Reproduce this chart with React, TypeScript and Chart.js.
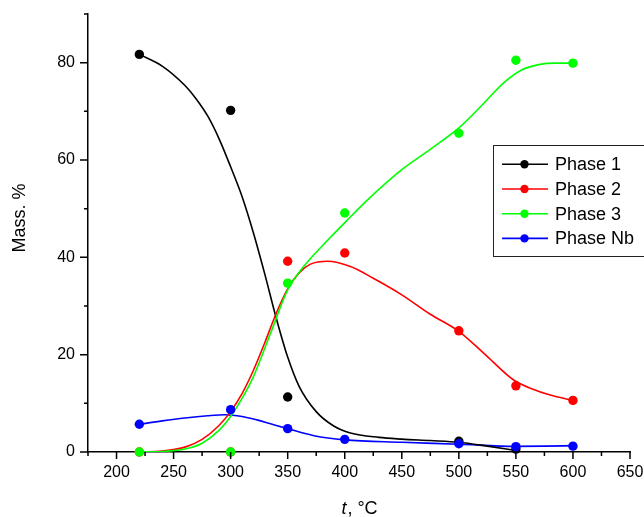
import { useEffect, useRef } from "react";
import { Chart, registerables } from "chart.js";

Chart.register(...registerables);

// ---- data ----
const seriesNames = ["Phase 1", "Phase 2", "Phase 3", "Phase Nb"];
const seriesColors = ["#000000", "#ff0000", "#00ff00", "#0000ff"];

const temps = [220, 300, 350, 400, 500, 550, 600];
const phase1 = [81.7, 70.2, 11.3, null, 2.2, 0.6, null];
const phase2 = [0, 0, 39.2, 40.9, 24.9, 13.6, 10.6];
const phase3 = [0, 0, 34.7, 49.1, 65.5, 80.5, 79.9];
const phaseNb = [5.7, 8.7, 4.8, 2.6, 1.7, 1.1, 1.2];

// fitted curves
const fit1T = [220, 240, 260, 270, 280, 290, 300, 310, 320, 330, 340, 350, 360, 375, 390, 405, 430, 450, 475, 500, 525, 550];
const fit1V = [81.7, 79.3, 75.3, 72.5, 69.0, 64.3, 58.6, 52.5, 45.0, 36.5, 27.5, 19.5, 13.5, 8.3, 5.4, 3.9, 3.0, 2.65, 2.35, 2.0, 1.2, 0.3];
const fit2T = [220, 240, 260, 275, 290, 300, 310, 320, 330, 340, 350, 360, 370, 385, 405, 425, 450, 475, 500, 525, 548, 565, 580, 600];
const fit2V = [0, 0.2, 1.0, 2.6, 5.5, 8.3, 12.0, 16.8, 22.5, 28.5, 33.5, 36.8, 38.6, 39.2, 38.1, 35.7, 32.3, 28.3, 24.8, 19.6, 14.8, 12.9, 11.7, 10.6];
const fit3T = [220, 240, 260, 275, 290, 300, 310, 320, 335, 350, 364, 385, 402, 420, 450, 475, 500, 520, 540, 555, 570, 585, 600];
const fit3V = [0, 0.1, 0.6, 1.8, 4.5, 7.3, 11.0, 15.5, 24.4, 33.3, 38.1, 43.5, 47.6, 51.8, 58.0, 62.2, 66.6, 71.2, 76.0, 78.5, 79.6, 79.9, 79.9];
const fitNbT = [220, 240, 260, 280, 295, 310, 323, 335, 350, 373, 400, 450, 500, 550, 575, 600];
const fitNbV = [5.7, 6.4, 7.0, 7.45, 7.65, 7.3, 6.6, 5.8, 4.8, 3.35, 2.5, 2.0, 1.6, 1.15, 1.2, 1.3];

const xMajor = [200, 250, 300, 350, 400, 450, 500, 550, 600, 650];
const xMinor = [175, 225, 275, 325, 375, 425, 475, 525, 575, 625];
const yMajor = [0, 20, 40, 60, 80];
const yMinor = [10, 30, 50, 70, 90];

const xTitleItalic = "t";
const xTitleRest = ", °C";
const yTitle = "Mass. %";

const FONT = "'Liberation Sans', Arial, Helvetica, sans-serif";

const toPts = (xs: number[], ys: (number | null)[]) =>
  xs.map((x, i) => ({ x, y: ys[i] })).filter((p) => p.y !== null) as { x: number; y: number }[];

export default function App() {
  const ref = useRef<HTMLCanvasElement | null>(null);

  useEffect(() => {
    document.body.style.margin = "0";
    const canvas = ref.current;
    if (!canvas) return;

    const pointSets = [phase1, phase2, phase3, phaseNb];
    const fitSets: [number[], number[]][] = [
      [fit1T, fit1V],
      [fit2T, fit2V],
      [fit3T, fit3V],
      [fitNbT, fitNbV],
    ];

    const pointOrder = [3, 2, 1, 0];
    const datasets: any[] = [];
    pointOrder.forEach((i) => {
      datasets.push({
        label: seriesNames[i],
        data: toPts(temps, pointSets[i]),
        showLine: false,
        pointRadius: 4.7,
        pointBorderWidth: 0,
        pointBackgroundColor: seriesColors[i],
        borderColor: seriesColors[i],
        clip: false,
      });
    });
    [2, 1, 0, 3].forEach((i) => {
      datasets.push({
        label: seriesNames[i] + " fit",
        data: toPts(fitSets[i][0], fitSets[i][1]),
        showLine: true,
        pointRadius: 0,
        borderWidth: 1.6,
        borderColor: seriesColors[i],
        cubicInterpolationMode: "monotone",
        fill: false,
      });
    });

    const decor = {
      id: "decor",
      afterDraw(chart: any) {
        const ctx = chart.ctx as CanvasRenderingContext2D;
        const xs = chart.scales.x;
        const ys = chart.scales.y;
        const area = chart.chartArea;
        ctx.save();
        ctx.strokeStyle = "#000";
        ctx.lineWidth = 1.5;
        ctx.beginPath();
        xMajor.forEach((v) => {
          const p = xs.getPixelForValue(v);
          ctx.moveTo(p, area.bottom);
          ctx.lineTo(p, area.bottom + 7);
        });
        xMinor.forEach((v) => {
          const p = xs.getPixelForValue(v);
          ctx.moveTo(p, area.bottom);
          ctx.lineTo(p, area.bottom + 4);
        });
        yMajor.forEach((v) => {
          const p = ys.getPixelForValue(v);
          ctx.moveTo(area.left, p);
          ctx.lineTo(area.left - 8, p);
        });
        yMinor.forEach((v) => {
          const p = ys.getPixelForValue(v);
          ctx.moveTo(area.left, p);
          ctx.lineTo(area.left - 4, p);
        });
        ctx.stroke();

        // axis titles
        ctx.fillStyle = "#000";
        ctx.textBaseline = "middle";
        ctx.font = `italic 18px ${FONT}`;
        const w1 = ctx.measureText(xTitleItalic).width;
        ctx.font = `18px ${FONT}`;
        const w2 = ctx.measureText(xTitleRest).width;
        const cx = 359;
        const sx = cx - (w1 + w2) / 2;
        ctx.textAlign = "left";
        ctx.font = `italic 18px ${FONT}`;
        ctx.fillText(xTitleItalic, sx, 509);
        ctx.font = `18px ${FONT}`;
        ctx.fillText(xTitleRest, sx + w1 + 1, 509);

        ctx.save();
        ctx.translate(20, 218);
        ctx.rotate(-Math.PI / 2);
        ctx.textAlign = "center";
        ctx.font = `18px ${FONT}`;
        ctx.fillText(yTitle, 0, 0);
        ctx.restore();

        // legend
        ctx.lineWidth = 1;
        ctx.strokeStyle = "#222";
        ctx.strokeRect(493.5, 145.5, 170, 111);
        seriesNames.forEach((name, i) => {
          const yy = 164.3 + i * 24.7;
          ctx.strokeStyle = seriesColors[i];
          ctx.lineWidth = 1.6;
          ctx.beginPath();
          ctx.moveTo(502, yy);
          ctx.lineTo(548, yy);
          ctx.stroke();
          ctx.fillStyle = seriesColors[i];
          ctx.beginPath();
          ctx.arc(524.5, yy, 4.2, 0, Math.PI * 2);
          ctx.fill();
          ctx.fillStyle = "#000";
          ctx.font = `18px ${FONT}`;
          ctx.textAlign = "left";
          ctx.textBaseline = "middle";
          ctx.fillText(name, 555, yy + 1);
        });
        ctx.restore();
      },
    };

    const chart = new Chart(canvas, {
      type: "scatter",
      data: { datasets },
      plugins: [decor],
      options: {
        animation: false,
        responsive: false,
        maintainAspectRatio: false,
        layout: { padding: { top: 14, right: 14, left: 0, bottom: 0 } },
        plugins: { legend: { display: false }, tooltip: { enabled: false } },
        scales: {
          x: {
            type: "linear",
            min: 175,
            max: 650,
            afterBuildTicks: (s: any) => {
              s.ticks = xMajor.map((v) => ({ value: v }));
            },
            afterFit: (s: any) => {
              s.height = 65;
              s.paddingLeft = 0;
              s.paddingRight = 0;
            },
            grid: { display: true, drawOnChartArea: false, drawTicks: false },
            border: { display: true, color: "#000", width: 1.5 },
            ticks: {
              color: "#000",
              font: { size: 16, family: FONT },
              padding: 11,
              maxRotation: 0,
              autoSkip: false,
            },
          },
          y: {
            type: "linear",
            min: 0,
            max: 90,
            afterBuildTicks: (s: any) => {
              s.ticks = yMajor.map((v) => ({ value: v }));
            },
            afterFit: (s: any) => {
              s.width = 88;
              s.paddingTop = 0;
              s.paddingBottom = 0;
            },
            grid: { display: true, drawOnChartArea: false, drawTicks: false },
            border: { display: true, color: "#000", width: 1.5 },
            ticks: {
              color: "#000",
              font: { size: 16, family: FONT },
              padding: 13,
              autoSkip: false,
            },
          },
        },
      },
    });

    return () => chart.destroy();
  }, []);

  return <canvas ref={ref} width={644} height={517} style={{ display: "block" }} />;
}
